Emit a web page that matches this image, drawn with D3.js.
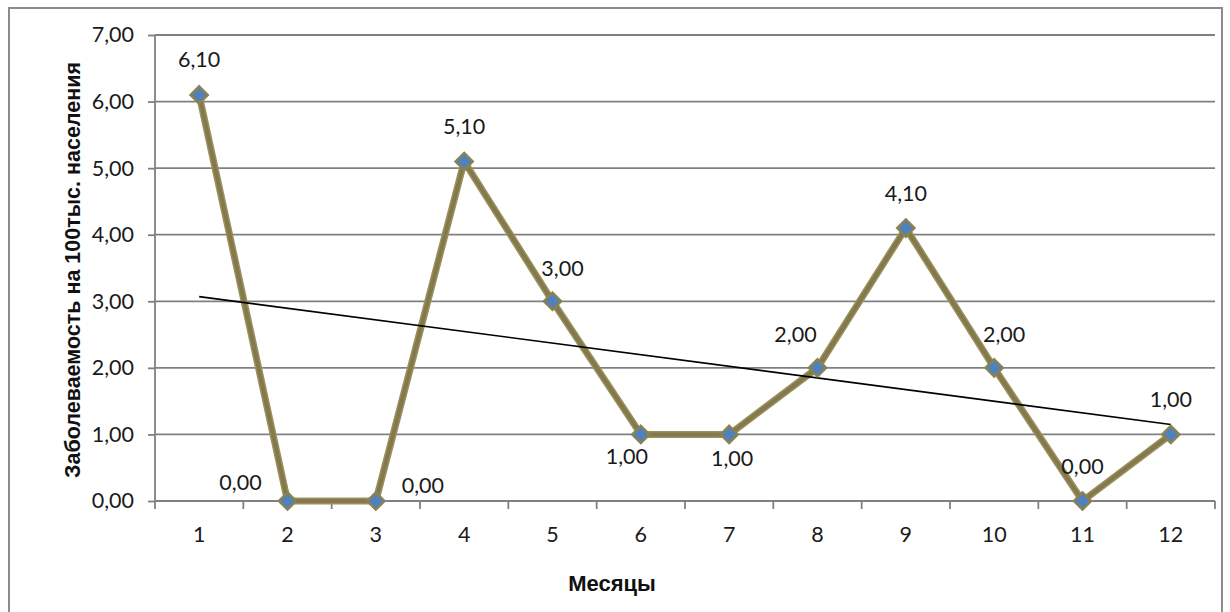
<!DOCTYPE html>
<html><head><meta charset="utf-8">
<script src="https://cdn.jsdelivr.net/npm/d3@7"></script>
<style>
html,body{margin:0;padding:0;background:#fff;}
svg{display:block;}
</style></head>
<body>
<svg id="chart" width="1230" height="612"></svg>
<script>
const months = ["1","2","3","4","5","6","7","8","9","10","11","12"];
const values = [6.10, 0.00, 0.00, 5.10, 3.00, 1.00, 1.00, 2.00, 4.10, 2.00, 0.00, 1.00];
const yTicks = [0, 1, 2, 3, 4, 5, 6, 7];
const trendEnds = [3.07, 1.15]; // linear trend at month 1 and month 12
const labelPlacement = ["top","left","right","top","topright","bottomleft","bottom","topleft","top","topright","top","top"];
const yTitle = "Заболеваемость на 100тыс. населения";
const xTitle = "Месяцы";

const svg = d3.select("#chart");
const m = {left:155, right:1215, top:35, bottom:501};
const numFont = "Lato, 'Open Sans', sans-serif";
const numSize = 21.5;

svg.append("rect").attr("x",9).attr("y",8).attr("width",1213).attr("height",620)
  .attr("fill","#fff").attr("stroke","#8c8c8c").attr("stroke-width",2);

const x = d3.scaleBand().domain(months).range([m.left, m.right]).padding(0);
const y = d3.scaleLinear().domain([0,7]).range([m.bottom, m.top]);
const fmt = v => d3.format(".2f")(v).replace(".", ",");

// gridlines
svg.append("g").selectAll("line").data(yTicks.filter(d=>d>0)).join("line")
  .attr("x1", m.left).attr("x2", m.right)
  .attr("y1", d=>y(d)).attr("y2", d=>y(d))
  .attr("stroke","#808080").attr("stroke-width",1.8);

// y axis
const yAxis = d3.axisLeft(y).tickValues(yTicks).tickFormat(fmt).tickSize(7).tickPadding(14);
const gy = svg.append("g").attr("transform",`translate(${m.left},0)`).call(yAxis);
gy.select(".domain").attr("stroke","#808080").attr("stroke-width",1.8).attr("d",`M0,${m.top}V${m.bottom}`);
gy.selectAll(".tick line").attr("stroke","#808080").attr("stroke-width",1.8);
gy.selectAll(".tick text").attr("font-family",numFont).attr("font-size",numSize).attr("fill","#1a1a1a");

// x axis
const xAxis = d3.axisBottom(x).tickSize(0).tickPadding(26);
const gx = svg.append("g").attr("transform",`translate(0,${m.bottom})`).call(xAxis);
gx.select(".domain").attr("stroke","#808080").attr("stroke-width",1.8).attr("d",`M${m.left},0H${m.right}`);
gx.selectAll(".tick text").attr("font-family",numFont).attr("font-size",numSize).attr("fill","#1a1a1a");
// boundary tick marks between categories
const bounds = months.map(d=>x(d)).concat([m.right]);
svg.append("g").selectAll("line").data(bounds).join("line")
  .attr("x1",d=>d).attr("x2",d=>d).attr("y1",m.bottom).attr("y2",m.bottom+8)
  .attr("stroke","#808080").attr("stroke-width",1.8);

const cx = d => x(d) + x.bandwidth()/2;

// series line
const line = d3.line().x((d,i)=>cx(months[i])).y(d=>y(d));
svg.append("path").datum(values).attr("d",line).attr("fill","none")
  .attr("stroke","#9a9060").attr("stroke-width",7).attr("stroke-linejoin","round");
svg.append("path").datum(values).attr("d",line).attr("fill","none")
  .attr("stroke","#84794a").attr("stroke-width",4).attr("stroke-linejoin","round");

// trend line
svg.append("line")
  .attr("x1", cx(months[0])).attr("y1", y(trendEnds[0]))
  .attr("x2", cx(months[months.length-1])).attr("y2", y(trendEnds[1]))
  .attr("stroke","#000").attr("stroke-width",1.6);

// markers
svg.append("g").selectAll("path").data(values).join("path")
  .attr("transform",(d,i)=>`translate(${cx(months[i])},${y(d)})`)
  .attr("d", d3.symbol().type(d3.symbolDiamond2 || d3.symbolDiamond).size(190))
  .attr("fill","#4f81bd").attr("stroke","#8c8150").attr("stroke-width",2.4);

// data labels
const off = {top:[0,-35], left:[-47,-19], right:[47,-16], topright:[10,-33], bottomleft:[-14,22],
  bottom:[3,24], topleft:[-22,-33]};
svg.append("g").selectAll("text").data(values).join("text")
  .attr("x",(d,i)=>cx(months[i]) + off[labelPlacement[i]][0])
  .attr("y",(d,i)=>y(d) + off[labelPlacement[i]][1])
  .attr("dy","0.35em").attr("text-anchor","middle")
  .attr("font-family",numFont).attr("font-size",numSize).attr("fill","#1a1a1a")
  .text(d=>fmt(d));

// titles
svg.append("text").attr("transform",`translate(72,${(m.top+m.bottom)/2+2}) rotate(-90)`)
  .attr("text-anchor","middle").attr("dy","0.35em")
  .attr("font-family","'Liberation Sans', Arial, sans-serif").attr("font-weight","bold").attr("font-size",21.5)
  .attr("fill","#111").text(yTitle);
svg.append("text").attr("x",612).attr("y",583).attr("dy","0.35em").attr("text-anchor","middle")
  .attr("font-family","'Liberation Sans', Arial, sans-serif").attr("font-weight","bold").attr("font-size",22)
  .attr("fill","#111").text(xTitle);
</script>
</body></html>
